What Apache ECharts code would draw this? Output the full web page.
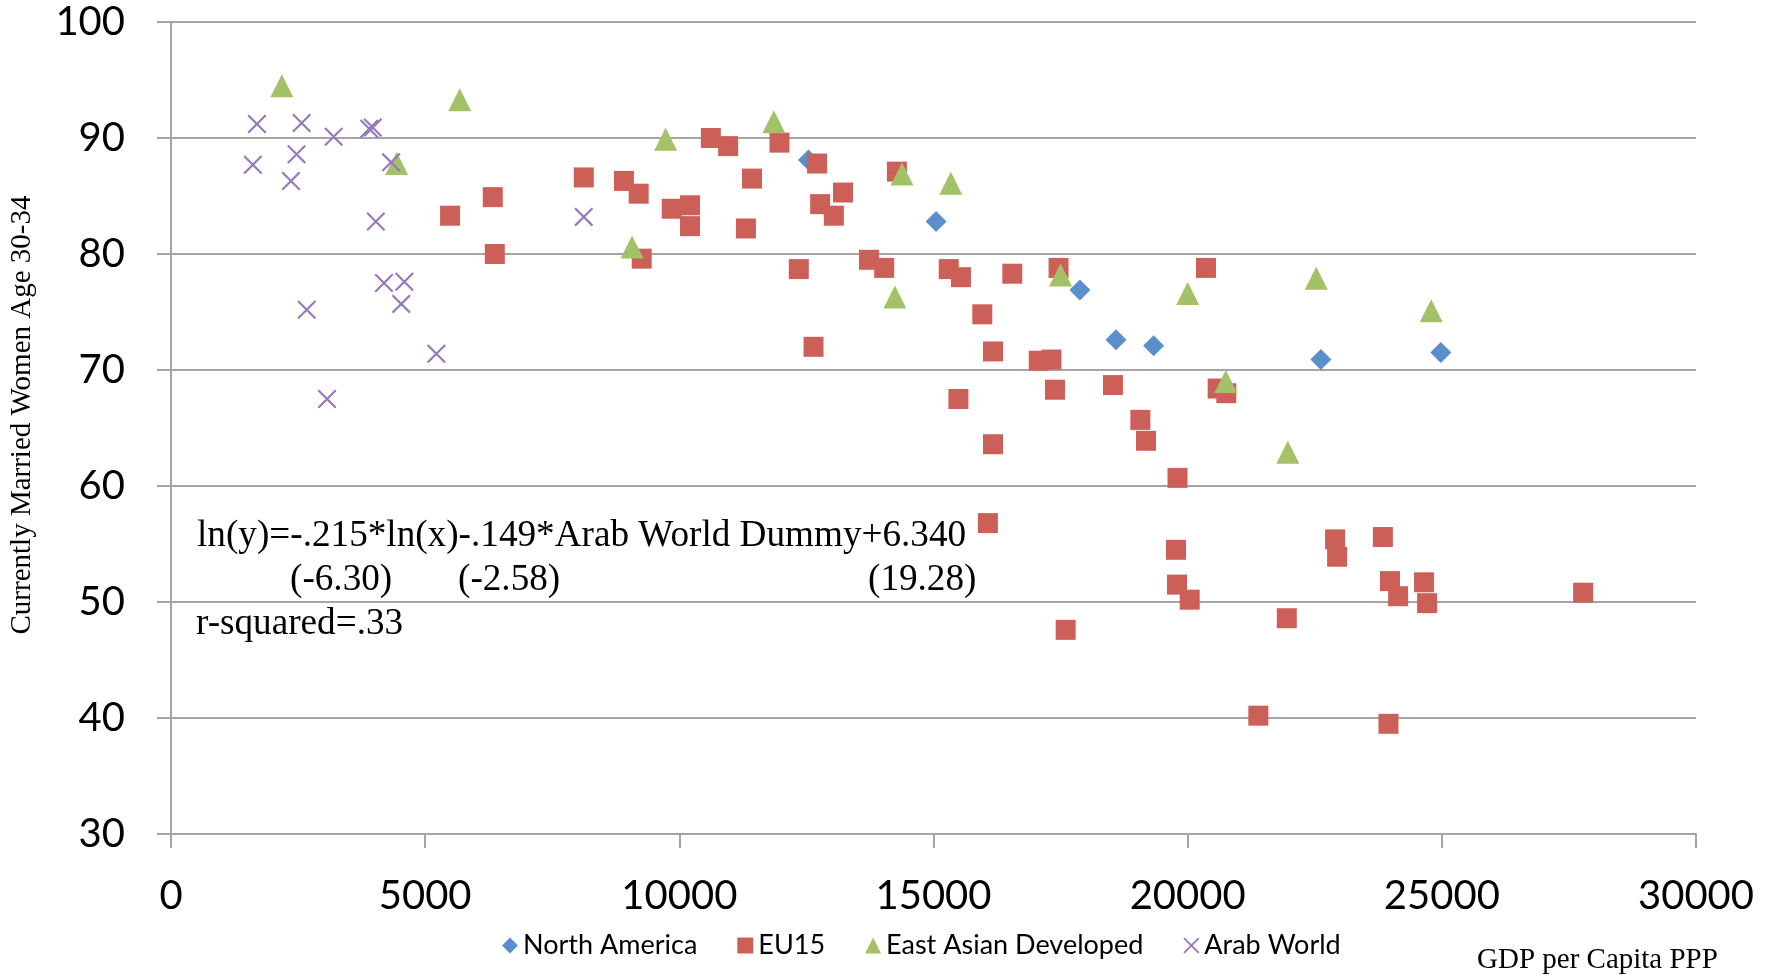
<!DOCTYPE html>
<html>
<head>
<meta charset="utf-8">
<title>Currently Married Women Age 30-34 vs GDP per Capita PPP</title>
<script src="https://cdn.jsdelivr.net/npm/echarts@6/dist/echarts.min.js"></script>
<style>
  html, body { margin: 0; padding: 0; background: #fff; }
  #chart { width: 1777px; height: 976px; }
</style>
</head>
<body>
<div id="chart"></div>
<script>
// series names, in legend order
const seriesNames = ['North America', 'EU15', 'East Asian Developed', 'Arab World'];

// [GDP per capita PPP, % currently married women 30-34]
const northAmerica = [
  [12540, 88.1], [15050, 82.8], [17880, 76.9], [18590, 72.6],
  [19330, 72.1], [22620, 70.9], [24980, 71.5]
];

const eu15 = [
  [5490, 83.3], [6330, 84.9], [6370, 80.0], [8120, 86.6], [8910, 86.3],
  [9200, 85.2], [9260, 79.6], [9850, 83.9], [10210, 84.2], [10210, 82.4],
  [10620, 90.0], [10960, 89.3], [11430, 86.5], [11310, 82.2], [11970, 89.6],
  [12710, 87.8], [12350, 78.7], [12770, 84.3], [13220, 85.3], [13040, 83.3],
  [12640, 72.0], [14280, 87.1], [13730, 79.5], [14030, 78.8], [15300, 78.7],
  [15540, 78.0], [16550, 78.3], [17460, 78.8], [15960, 74.8], [16170, 71.6],
  [15490, 67.5], [17070, 70.8], [17320, 70.9], [17390, 68.3], [16170, 63.6],
  [18530, 68.7], [19070, 65.7], [19180, 63.9], [20360, 78.8], [20590, 68.4],
  [20760, 68.0], [16070, 56.8], [19800, 60.7], [19770, 54.5], [19790, 51.5],
  [20040, 50.2], [17600, 47.6], [22900, 55.4], [22940, 53.9], [23840, 55.6],
  [23980, 51.8], [24140, 50.5], [24650, 51.7], [24710, 49.9], [27780, 50.8],
  [21950, 48.6], [21390, 40.2], [23950, 39.5]
];

const eastAsia = [
  [2180, 94.5], [4440, 87.8], [5680, 93.3], [9070, 80.6], [9730, 89.9],
  [11860, 91.4], [14240, 76.3], [14380, 86.9], [15340, 86.1], [17500, 78.2],
  [20000, 76.6], [20750, 69.0], [21970, 62.9], [22530, 77.9], [24790, 75.1]
];

const arabWorld = [
  [1610, 87.7], [1690, 91.2], [2360, 86.3], [2470, 88.6], [2570, 91.3],
  [2670, 75.2], [3070, 67.5], [3200, 90.1], [3900, 90.8], [3970, 90.9],
  [4030, 82.8], [4190, 77.5], [4330, 87.9], [4530, 75.7], [4590, 77.6],
  [5220, 71.4], [8120, 83.2]
];

// axis ranges
const xMin = 0, xMax = 30000, xStep = 5000;
const yMin = 30, yMax = 100, yStep = 10;

const colors = ['#5a8fcb', '#cd5f59', '#a4c167', '#9579bc'];
const gridGray = '#a5a5a5';
const crossPath = 'path://M0,0.8L0.8,0L10,9.2L9.2,10ZM9.2,0L10,0.8L0.8,10L0,9.2Z';
const symbols = ['diamond', 'rect', 'triangle', crossPath];
const symbolSizes = [21, 20, 23, 19];
const allData = [northAmerica, eu15, eastAsia, arabWorld];

const chart = echarts.init(document.getElementById('chart'));

let _series = [];
seriesNames.forEach((name, k) => {
  _series.push({
    name: name,
    type: 'scatter',
    symbol: symbols[k],
    symbolSize: symbolSizes[k],
    itemStyle: { color: colors[k], opacity: 1 },
    emphasis: { disabled: true },
    data: allData[k]
  });
});

const serif = '"Liberation Serif", "Times New Roman", serif';

const option = {
  animation: false,
  backgroundColor: '#ffffff',
  grid: {
    left: 171,
    right: 81,
    top: 22,
    bottom: 142,
    outerBoundsMode: 'none'
  },
  legend: {
    left: 497,
    top: 927,
    itemWidth: 16,
    itemHeight: 16,
    itemGap: 40,
    textStyle: { fontFamily: 'Lato', fontSize: 27, color: '#000' },
    data: seriesNames.map((n, k) => ({ name: n, icon: symbols[k] }))
  },
  xAxis: {
    type: 'value',
    min: xMin,
    max: xMax,
    interval: xStep,
    axisLine: { show: true, lineStyle: { color: gridGray, width: 2 } },
    axisTick: { show: true, length: 14, lineStyle: { color: gridGray, width: 2 } },
    splitLine: { show: false },
    axisLabel: {
      margin: 42,
      fontFamily: 'Lato',
      fontSize: 40,
      color: '#000',
      showMinLabel: true,
      showMaxLabel: true,
      formatter: v => String(v)
    }
  },
  yAxis: {
    type: 'value',
    min: yMin,
    max: yMax,
    interval: yStep,
    name: 'Currently Married Women Age 30-34',
    nameLocation: 'middle',
    nameRotate: 90,
    nameGap: 134,
    nameTextStyle: { fontFamily: serif, fontSize: 29, color: '#000', padding: [0, 0, 0, 26] },
    axisLine: { show: true, lineStyle: { color: gridGray, width: 2 } },
    axisTick: { show: true, length: 14, lineStyle: { color: gridGray, width: 2 } },
    splitLine: { show: true, lineStyle: { color: gridGray, width: 2 } },
    axisLabel: {
      margin: 46,
      fontFamily: 'Lato',
      fontSize: 40,
      color: '#000',
      padding: [8, 0, 0, 0],
      showMinLabel: true,
      showMaxLabel: true
    }
  },
  graphic: [
    // regression annotation
    { type: 'text', x: 197, y: 536, style: { text: 'ln(y)=-.215*ln(x)-.149*Arab World Dummy+6.340', font: '37.2px ' + serif, fill: '#000', verticalAlign: 'middle' } },
    { type: 'text', x: 290, y: 580, style: { text: '(-6.30)', font: '37.2px ' + serif, fill: '#000', verticalAlign: 'middle' } },
    { type: 'text', x: 458, y: 580, style: { text: '(-2.58)', font: '37.2px ' + serif, fill: '#000', verticalAlign: 'middle' } },
    { type: 'text', x: 868, y: 580, style: { text: '(19.28)', font: '37.2px ' + serif, fill: '#000', verticalAlign: 'middle' } },
    { type: 'text', x: 196, y: 624, style: { text: 'r-squared=.33', font: '37.2px ' + serif, fill: '#000', verticalAlign: 'middle' } },
    // x axis title, bottom right
    { type: 'text', x: 1477, y: 960, style: { text: 'GDP per Capita PPP', font: '29px ' + serif, fill: '#000', verticalAlign: 'middle' } }
  ],
  series: _series
};

chart.setOption(option);
</script>
</body>
</html>
